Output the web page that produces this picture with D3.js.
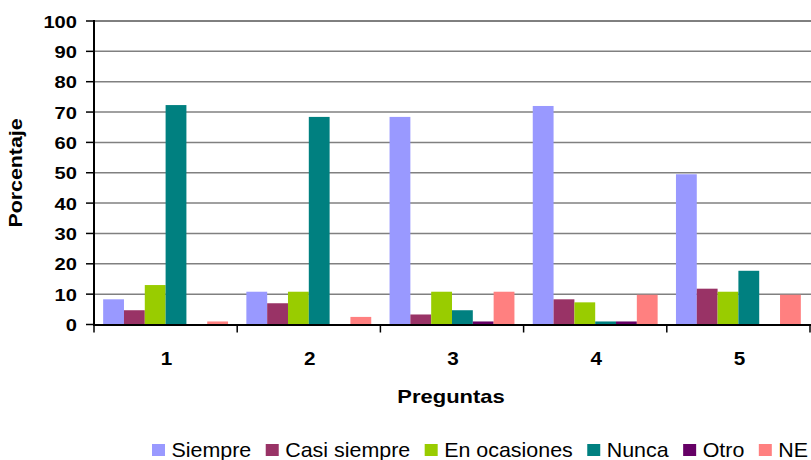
<!DOCTYPE html>
<html><head><meta charset="utf-8">
<script src="https://cdn.jsdelivr.net/npm/d3@7"></script>
<style>body{margin:0;background:#fff;}svg{display:block;}text{font-family:"Liberation Sans",Arial,sans-serif;fill:#000;}</style>
</head><body>
<svg id="c" width="811" height="460"></svg>
<script>
const categories = ["1","2","3","4","5"];
const seriesNames = ["Siempre","Casi siempre","En ocasiones","Nunca","Otro","NE"];
const siempre     = [8.3, 10.8, 68.4, 72.0, 49.5];
const casiSiempre = [4.7, 7.0, 3.3, 8.3, 11.8];
const enOcasiones = [13.0, 10.8, 10.8, 7.3, 10.8];
const nunca       = [72.3, 68.4, 4.7, 1.0, 17.7];
const otro        = [0, 0, 1.0, 1.0, 0];
const ne          = [1.0, 2.5, 10.8, 9.8, 9.8];
const yTicks = [0,10,20,30,40,50,60,70,80,90,100];
const colors = ["#9999FF","#993366","#99CC00","#008080","#660066","#FF8080"];
const seriesValues = [siempre, casiSiempre, enOcasiones, nunca, otro, ne];

const svg = d3.select("#c");
const L = 94, R = 810, T = 21, B = 324.5;
const x0 = d3.scaleBand().domain(categories).range([L, R]).paddingInner(0).paddingOuter(0);
const x1 = d3.scaleBand().domain(seriesNames).range([0, x0.bandwidth()]).paddingInner(0).paddingOuter(0.44);
const y = d3.scaleLinear().domain([0, 100]).range([B, T]);

// gridlines
svg.append("g").selectAll("line").data(yTicks.filter(d => d > 0)).join("line")
  .attr("x1", L).attr("x2", 811).attr("y1", d => y(d)).attr("y2", d => y(d))
  .attr("stroke", d => d === 100 ? "#000" : "#808080").attr("stroke-width", d => d === 100 ? 1 : 1.5);

// bars
const rows = [];
seriesNames.forEach((s, i) => categories.forEach((c, j) => rows.push({s, c, v: seriesValues[i][j], col: colors[i]})));
svg.append("g").selectAll("rect").data(rows.filter(d => d.v > 0)).join("rect")
  .attr("x", d => x0(d.c) + x1(d.s)).attr("width", x1.bandwidth())
  .attr("y", d => y(d.v)).attr("height", d => y(0) - y(d.v))
  .attr("fill", d => d.col);

// y axis
const ya = svg.append("g");
ya.append("line").attr("x1", L).attr("x2", L).attr("y1", T - 1).attr("y2", B + 1).attr("stroke", "#000").attr("stroke-width", 2);
ya.selectAll("line.t").data(yTicks).join("line").attr("class", "t")
  .attr("x1", L - 8).attr("x2", L).attr("y1", d => y(d)).attr("y2", d => y(d)).attr("stroke", "#000").attr("stroke-width", 1.5);
ya.selectAll("text").data(yTicks).join("text")
  .attr("transform", d => `translate(77,${y(d) + 6.5}) scale(1.22,1)`)
  .attr("text-anchor", "end").attr("font-size", 16.5).attr("font-weight", "bold").text(d => d);

// x axis
const xa = svg.append("g");
xa.append("line").attr("x1", L - 1).attr("x2", 811).attr("y1", B + 0.5).attr("y2", B + 0.5).attr("stroke", "#000").attr("stroke-width", 2);
const bounds = categories.map(c => x0(c)).concat([x0(categories[categories.length - 1]) + x0.bandwidth()]);
xa.selectAll("line.t").data(bounds).join("line").attr("class", "t")
  .attr("x1", d => d).attr("x2", d => d).attr("y1", B).attr("y2", B + 8).attr("stroke", "#000").attr("stroke-width", 1.5);
xa.selectAll("text").data(categories).join("text")
  .attr("transform", d => `translate(${x0(d) + x0.bandwidth() / 2 + 1},364.5) scale(1.15,1)`)
  .attr("text-anchor", "middle").attr("font-size", 18).attr("font-weight", "bold").text(d => d);

// axis titles
svg.append("text").attr("transform", "translate(451,403) scale(1.22,1)")
  .attr("text-anchor", "middle").attr("font-size", 18).attr("font-weight", "bold").text("Preguntas");
svg.append("text").attr("transform", "translate(22,173) rotate(-90) scale(1.22,1)")
  .attr("text-anchor", "middle").attr("font-size", 17.5).attr("font-weight", "bold").text("Porcentaje");

// legend
const lg = svg.append("g");
let lx = 152;
const sx = 1.02;
seriesNames.forEach((s, i) => {
  lg.append("rect").attr("x", lx).attr("y", 444).attr("width", 13).attr("height", 12).attr("fill", colors[i]);
  const t = lg.append("text").attr("transform", `translate(${lx + 19.5},456.5) scale(${sx},1)`)
    .attr("font-size", 21).text(s);
  const w = t.node().getComputedTextLength() * sx;
  lx = lx + 19.5 + w + 14.5;
});
</script>
</body></html>
